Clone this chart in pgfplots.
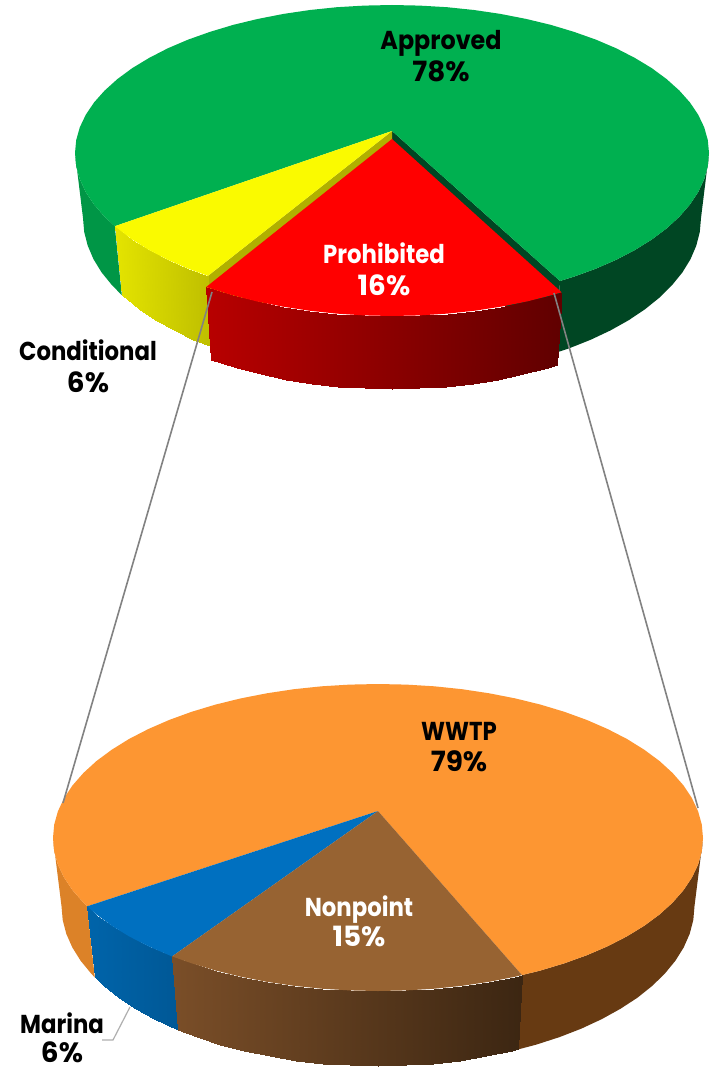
\documentclass[border=0pt]{standalone}
\usepackage{pgfplots}
\usepackage{fontspec}
\pgfplotsset{compat=1.18}
\setmainfont{Poppins}
\newfontfamily\namefont[FakeStretch=0.88]{Poppins}
\newfontfamily\namefontw[FakeStretch=0.92]{Poppins}
\definecolor{cgreen}{RGB}{0,176,80}
\definecolor{cgreenL}{RGB}{0,150,70}
\definecolor{cgreenD}{RGB}{0,70,35}
\definecolor{colive}{RGB}{176,176,0}
\definecolor{cyellow}{RGB}{250,250,0}
\definecolor{corange}{RGB}{253,150,50}
\definecolor{corangeL}{RGB}{220,130,40}
\definecolor{corangeD}{RGB}{103,58,18}
\definecolor{cblue}{RGB}{0,112,192}
\definecolor{cbrown}{RGB}{151,99,50}
\definecolor{cleader}{RGB}{130,130,130}
\definecolor{cleaderL}{RGB}{175,175,175}
\pgfplotsset{
  colormap={cmred}{rgb255=(184,0,0) rgb255=(96,0,0)},
  colormap={cmyel}{rgb255=(228,228,0) rgb255=(190,190,0)},
  colormap={cmblu}{rgb255=(0,100,170) rgb255=(0,88,150)},
  colormap={cmbro}{rgb255=(122,78,40) rgb255=(60,38,18)},
  sidegrad/.style={surf,shader=interp,mesh/rows=2,point meta=x,point meta rel=per plot}
}
\tikzset{
  nm/.style={font=\namefont\fontsize{26}{30}\selectfont\bfseries,inner sep=0pt,anchor=base},
  nmw/.style={font=\namefontw\fontsize{26}{30}\selectfont\bfseries,inner sep=0pt,anchor=base},
  pc/.style={font=\fontsize{28}{32}\selectfont\bfseries,inner sep=0pt,anchor=base}
}
\begin{document}
\begin{tikzpicture}
\begin{axis}[at={(0,0)},anchor=south west,width=717bp,height=1068bp,scale only axis,
  xmin=0,xmax=717,ymin=0,ymax=1068,y dir=reverse,hide axis,clip=true]
\addplot[fill=white,draw=none] coordinates {(0,0)(717,0)(717,1068)(0,1068)} -- cycle;

% ---------- bottom pie: WWTP 79, Marina 6, Nonpoint 15 ----------
% left wall
\addplot[fill=corangeL,draw=none] coordinates {(53,838)(54.2,851.3)(57.9,864.6)(64.1,877.6)(72.6,890.3)(83.5,902.7)(87.2,906.3)(94.8,977.4)(91.2,973.6)(80.6,960.7)(72.3,947.4)(66.3,933.8)(62.7,920)(61.5,906)} -- cycle;
% right wall
\addplot[fill=corangeD,draw=none] coordinates {(703,838)(701.8,851.3)(698.1,864.6)(691.9,877.6)(683.4,890.3)(672.5,902.7)(659.5,914.5)(644.2,925.8)(627,936.3)(607.8,946.2)(586.9,955.2)(564.4,963.3)(540.5,970.5)(522,975.1)(518.2,1049.4)(536.3,1044.6)(559.5,1037.1)(581.4,1028.6)(601.8,1019.1)(620.4,1008.8)(637.3,997.8)(652.1,986)(664.8,973.6)(675.4,960.7)(683.7,947.4)(689.7,933.8)(693.3,920)(694.5,906)} -- cycle;
% blue wall
\addplot[sidegrad,colormap name=cmblu] coordinates {
(87.2,906.3)(96.5,914.5)(111.8,925.8)(129,936.3)(148.2,946.2)(172.1,956.4)
(94.8,977.4)(103.9,986)(118.7,997.8)(135.6,1008.8)(154.2,1019.1)(177.5,1029.8)};
% brown wall
\addplot[sidegrad,colormap name=cmbro] coordinates {
(172.1,956.4)(191.6,963.3)(215.5,970.5)(240.7,976.7)(266.8,981.8)(293.9,985.8)(321.6,988.7)(349.7,990.4)(378,991)(406.3,990.4)(434.4,988.7)(462.1,985.8)(489.2,981.8)(515.3,976.7)(522,975.1)
(177.5,1029.8)(196.5,1037.1)(219.7,1044.6)(244.2,1051)(269.8,1056.4)(296.1,1060.5)(323.1,1063.6)(350.4,1065.4)(378,1066)(405.6,1065.4)(432.9,1063.6)(459.9,1060.5)(486.2,1056.4)(511.8,1051)(518.2,1049.4)};
% orange face
\addplot[fill=corange,draw=none] coordinates {(87.2,906.3)(83.5,902.7)(72.6,890.3)(64.1,877.6)(57.9,864.6)(54.2,851.3)(53,838)(54.2,824.6)(57.9,811.3)(64.1,798.1)(72.6,785.3)(83.5,772.9)(96.5,761)(111.8,749.7)(129,739)(148.2,729.1)(169.1,720)(191.6,711.8)(215.5,704.6)(240.7,698.4)(266.8,693.3)(293.9,689.2)(321.6,686.3)(349.7,684.6)(378,684)(406.3,684.6)(434.4,686.3)(462.1,689.2)(489.2,693.3)(515.3,698.4)(540.5,704.6)(564.4,711.8)(586.9,720)(607.8,729.1)(627,739)(644.2,749.7)(659.5,761)(672.5,772.9)(683.4,785.3)(691.9,798.1)(698.1,811.3)(701.8,824.6)(703,838)(701.8,851.3)(698.1,864.6)(691.9,877.6)(683.4,890.3)(672.5,902.7)(659.5,914.5)(644.2,925.8)(627,936.3)(607.8,946.2)(586.9,955.2)(564.4,963.3)(540.5,970.5)(522,975.1)(378,811)} -- cycle;
% blue face
\addplot[fill=cblue,draw=none] coordinates {(378,811)(87.2,906.3)(96.5,914.5)(111.8,925.8)(129,936.3)(148.2,946.2)(169.1,955.2)(172.1,956.4)} -- cycle;
% brown face
\addplot[fill=cbrown,draw=none] coordinates {(378,811)(172.1,956.4)(191.6,963.3)(215.5,970.5)(240.7,976.7)(266.8,981.8)(293.9,985.8)(321.6,988.7)(349.7,990.4)(378,991)(406.3,990.4)(434.4,988.7)(462.1,985.8)(489.2,981.8)(515.3,976.7)(522,975.1)} -- cycle;

% ---------- top pie: Approved 78, Conditional 6, Prohibited 16 ----------
% left wall
\addplot[fill=cgreenL,draw=none] coordinates {(75,153)(76.2,166.2)(79.8,179.2)(85.8,192.1)(94.1,204.6)(104.7,216.8)(114.8,226.2)(121.8,295.1)(112,285.2)(101.6,272.4)(93.5,259.2)(87.7,245.6)(84.2,231.9)(83,218)} -- cycle;
% right wall
\addplot[fill=cgreenD,draw=none] coordinates {(709,153)(707.8,166.2)(704.2,179.2)(698.2,192.1)(689.9,204.6)(679.3,216.8)(666.5,228.5)(651.7,239.6)(634.8,250.1)(616.2,259.8)(595.8,268.7)(573.8,276.7)(560,281)(555.7,352.8)(569.2,348.3)(590.6,339.8)(610.5,330.4)(628.7,320.2)(645.1,309.2)(659.6,297.5)(672,285.2)(682.4,272.4)(690.5,259.2)(696.3,245.6)(699.8,231.9)(701,218)} -- cycle;
% inner walls
\addplot[fill=cgreenD,draw=none] coordinates {(392,131)(560,281)(555.7,352.8)(392,200)} -- cycle;
\addplot[fill=colive,draw=none] coordinates {(392,131)(207.9,275.9)(212.6,347.4)(392,200)} -- cycle;
% yellow wall
\addplot[sidegrad,colormap name=cmyel] coordinates {
(114.8,226.2)(132.3,239.6)(149.2,250.1)(167.8,259.8)(188.2,268.7)(207.9,275.9)
(121.8,295.1)(138.9,309.2)(155.3,320.2)(173.5,330.4)(193.4,339.8)(212.6,347.4)};
% green face
\addplot[fill=cgreen,draw=none] coordinates {(114.8,226.2)(104.7,216.8)(94.1,204.6)(85.8,192.1)(79.8,179.2)(76.2,166.2)(75,153)(76.2,140.1)(79.8,127.3)(85.8,114.7)(94.1,102.4)(104.7,90.5)(117.5,79)(132.3,68.1)(149.2,57.9)(167.8,48.3)(188.2,39.6)(210.2,31.8)(233.5,24.8)(258,18.9)(283.6,13.9)(310,10)(337,7.2)(364.4,5.6)(392,5)(419.6,5.6)(447,7.2)(474,10)(500.4,13.9)(526,18.9)(550.5,24.8)(573.8,31.8)(595.8,39.6)(616.2,48.3)(634.8,57.9)(651.7,68.1)(666.5,79)(679.3,90.5)(689.9,102.4)(698.2,114.7)(704.2,127.3)(707.8,140.1)(709,153)(707.8,166.2)(704.2,179.2)(698.2,192.1)(689.9,204.6)(679.3,216.8)(666.5,228.5)(651.7,239.6)(634.8,250.1)(616.2,259.8)(595.8,268.7)(573.8,276.7)(560,281)(392,131)} -- cycle;
% yellow face
\addplot[fill=cyellow,draw=none] coordinates {(392,131)(114.8,226.2)(132.3,239.6)(149.2,250.1)(167.8,259.8)(188.2,268.7)(207.9,275.9)} -- cycle;
% red wall
\addplot[sidegrad,colormap name=cmred] coordinates {
(206.2,287)(232,295.1)(256.8,301.4)(282.6,306.6)(309.2,310.7)(336.4,313.6)(364.1,315.4)(392,316)(419.9,315.4)(447.6,313.6)(474.8,310.7)(501.4,306.6)(527.2,301.4)(552,295.1)(561.6,292.3)
(211.4,360)(236.5,368.1)(260.6,374.4)(285.6,379.6)(311.5,383.7)(338,386.6)(364.9,388.4)(392,389)(419.1,388.4)(446,386.6)(472.5,383.7)(498.4,379.6)(523.4,374.4)(547.5,368.1)(556.8,365.3)};
% red face
\addplot[fill=red,draw=none] coordinates {(392,139)(206.2,287)(232,295.1)(256.8,301.4)(282.6,306.6)(309.2,310.7)(336.4,313.6)(364.1,315.4)(392,316)(419.9,315.4)(447.6,313.6)(474.8,310.7)(501.4,306.6)(527.2,301.4)(552,295.1)(561.6,292.3)} -- cycle;

% ---------- series lines ----------
\addplot[draw=cleader,line width=1.6bp] coordinates {(212,292)(63,803)};
\addplot[draw=cleader,line width=1.6bp] coordinates {(554,293)(698,808)};
\addplot[draw=cleaderL,line width=1.2bp] coordinates {(130,1007)(113,1040)(102,1040)};

% ---------- labels ----------
\node[nmw,text=black] at (axis cs:441,50) {Approved};
\node[pc,text=black] at (axis cs:441,82) {78\%};
\node[nm,text=white] at (axis cs:384,263) {Prohibited};
\node[pc,text=white] at (axis cs:384,295) {16\%};
\node[nm,text=black] at (axis cs:88,360) {Conditional};
\node[pc,text=black] at (axis cs:88,392) {6\%};
\node[nm,text=black] at (axis cs:459,740) {WWTP};
\node[pc,text=black] at (axis cs:459,771) {79\%};
\node[nm,text=white] at (axis cs:359,916) {Nonpoint};
\node[pc,text=white] at (axis cs:359,946) {15\%};
\node[nm,text=black] at (axis cs:62,1033) {Marina};
\node[pc,text=black] at (axis cs:62,1062) {6\%};
\end{axis}
\end{tikzpicture}
\end{document}
